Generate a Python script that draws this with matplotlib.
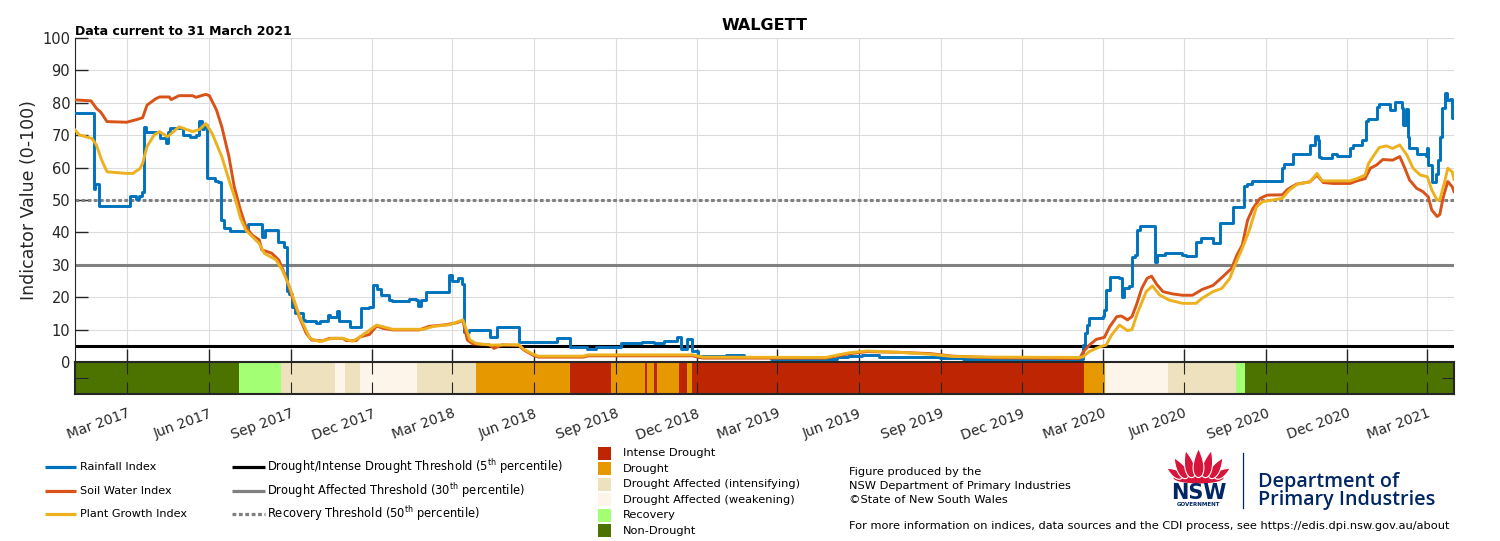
import numpy as np
import pandas as pd
import matplotlib
matplotlib.use('Agg')
import matplotlib.pyplot as plt
import matplotlib.dates as mdates
from matplotlib.patches import Rectangle, Polygon, Ellipse

# ---- data ----
rain = [('2017-01-01', 77.0), ('2017-01-22', 53.5), ('2017-01-24', 55.0), ('2017-01-28', 48.1),
        ('2017-03-04', 51.2), ('2017-03-11', 50.2), ('2017-03-14', 51.2), ('2017-03-17', 52.6),
        ('2017-03-20', 72.4), ('2017-03-22', 71.0), ('2017-04-07', 69.0), ('2017-04-13', 67.5),
        ('2017-04-16', 71.0), ('2017-04-18', 72.2), ('2017-05-02', 70.0), ('2017-05-10', 69.5),
        ('2017-05-17', 70.2), ('2017-05-20', 74.5), ('2017-05-24', 72.0), ('2017-05-26', 73.0),
        ('2017-05-29', 56.7), ('2017-06-07', 56.0), ('2017-06-11', 55.5), ('2017-06-14', 43.8),
        ('2017-06-18', 41.3), ('2017-06-24', 40.3), ('2017-07-14', 42.7), ('2017-07-30', 38.5),
        ('2017-08-03', 40.8), ('2017-08-17', 37.0), ('2017-08-24', 35.5), ('2017-08-27', 22.0),
        ('2017-08-30', 21.0), ('2017-09-02', 17.0), ('2017-09-05', 15.0), ('2017-09-14', 13.0),
        ('2017-09-17', 12.6), ('2017-09-29', 12.0), ('2017-10-03', 12.6), ('2017-10-12', 14.5),
        ('2017-10-15', 13.8), ('2017-10-23', 15.7), ('2017-10-25', 12.8), ('2017-11-06', 10.9),
        ('2017-11-19', 16.6), ('2017-11-28', 17.0), ('2017-12-02', 23.8), ('2017-12-07', 22.5),
        ('2017-12-11', 20.7), ('2017-12-20', 19.1), ('2017-12-23', 18.8), ('2018-01-11', 19.5),
        ('2018-01-19', 19.1), ('2018-01-22', 17.4), ('2018-01-25', 19.1), ('2018-01-30', 21.5),
        ('2018-02-25', 27.0), ('2018-03-01', 25.0), ('2018-03-07', 26.0), ('2018-03-12', 24.0),
        ('2018-03-14', 9.4), ('2018-03-20', 10.0), ('2018-04-12', 7.8), ('2018-04-20', 10.9),
        ('2018-05-15', 6.3), ('2018-06-27', 7.4), ('2018-07-11', 4.7), ('2018-07-31', 4.0),
        ('2018-08-10', 4.7), ('2018-09-07', 5.9), ('2018-09-30', 6.2), ('2018-10-14', 5.8),
        ('2018-10-25', 6.5), ('2018-11-09', 7.8), ('2018-11-13', 4.0), ('2018-11-20', 7.1),
        ('2018-11-25', 3.5), ('2018-12-02', 1.6), ('2018-12-04', 1.8), ('2019-01-03', 2.2),
        ('2019-01-23', 1.5), ('2019-02-22', 1.0), ('2019-05-08', 1.5), ('2019-05-20', 2.0),
        ('2019-06-05', 2.3), ('2019-06-24', 1.6), ('2019-08-31', 1.2), ('2019-09-26', 0.9),
        ('2020-02-08', 5.2), ('2020-02-10', 9.0), ('2020-02-12', 11.4), ('2020-02-15', 13.5),
        ('2020-03-01', 14.2), ('2020-03-03', 16.0), ('2020-03-05', 22.2), ('2020-03-09', 26.2),
        ('2020-03-20', 25.8), ('2020-03-23', 20.2), ('2020-03-25', 22.8), ('2020-03-31', 23.5),
        ('2020-04-03', 32.5), ('2020-04-07', 33.0), ('2020-04-09', 40.7), ('2020-04-12', 42.0),
        ('2020-04-29', 31.0), ('2020-05-01', 33.0), ('2020-05-10', 33.7), ('2020-05-29', 33.0),
        ('2020-06-03', 32.7), ('2020-06-14', 37.1), ('2020-06-20', 38.3), ('2020-07-03', 36.8),
        ('2020-07-11', 42.8), ('2020-07-26', 47.9), ('2020-08-07', 54.3), ('2020-08-10', 55.0),
        ('2020-08-16', 56.0), ('2020-09-19', 59.8), ('2020-09-21', 61.0), ('2020-10-01', 64.2),
        ('2020-10-20', 67.0), ('2020-10-26', 69.8), ('2020-10-29', 68.6), ('2020-10-30', 63.2),
        ('2020-11-02', 62.9), ('2020-11-14', 64.3), ('2020-11-19', 63.5), ('2020-12-04', 66.2),
        ('2020-12-07', 67.0), ('2020-12-18', 68.4), ('2020-12-22', 74.5), ('2020-12-24', 75.1),
        ('2021-01-03', 78.8), ('2021-01-06', 79.5), ('2021-01-18', 77.8), ('2021-01-24', 80.3),
        ('2021-02-01', 78.5), ('2021-02-02', 73.1), ('2021-02-05', 78.0), ('2021-02-07', 69.5),
        ('2021-02-08', 66.2), ('2021-02-17', 64.3), ('2021-02-27', 63.5), ('2021-03-01', 66.0),
        ('2021-03-02', 60.8), ('2021-03-06', 55.7), ('2021-03-11', 58.0), ('2021-03-13', 62.3),
        ('2021-03-15', 69.5), ('2021-03-17', 78.3), ('2021-03-21', 82.9), ('2021-03-23', 81.0),
        ('2021-03-26', 81.2), ('2021-03-29', 75.2), ('2021-03-31', 75.2)]

soil = [('2017-01-01', 80.9), ('2017-01-19', 80.6), ('2017-01-25', 78.3), ('2017-01-30', 77.1),
        ('2017-02-06', 74.2), ('2017-02-28', 74.0), ('2017-03-11', 74.8), ('2017-03-18', 75.4),
        ('2017-03-23', 79.3), ('2017-04-02', 81.3), ('2017-04-06', 81.8), ('2017-04-17', 81.8),
        ('2017-04-19', 81.0), ('2017-04-28', 82.2), ('2017-05-13', 82.2), ('2017-05-17', 81.7),
        ('2017-05-28', 82.6), ('2017-06-01', 82.2), ('2017-06-09', 77.8), ('2017-06-15', 72.6),
        ('2017-06-23', 63.4), ('2017-06-29', 54.1), ('2017-07-06', 46.9), ('2017-07-12', 41.8),
        ('2017-07-19', 39.2), ('2017-07-27', 37.7), ('2017-07-30', 34.6), ('2017-08-10', 33.6),
        ('2017-08-18', 31.5), ('2017-08-26', 26.3), ('2017-09-02', 20.2), ('2017-09-10', 14.0),
        ('2017-09-18', 8.8), ('2017-09-24', 6.8), ('2017-10-06', 6.5), ('2017-10-14', 7.3),
        ('2017-10-29', 7.3), ('2017-11-02', 6.6), ('2017-11-13', 6.6), ('2017-11-17', 7.7),
        ('2017-11-28', 8.5), ('2017-12-06', 11.1), ('2017-12-13', 10.4), ('2017-12-24', 9.9),
        ('2018-01-23', 9.9), ('2018-02-03', 11.0), ('2018-02-22', 11.5), ('2018-03-06', 12.1),
        ('2018-03-13', 12.8), ('2018-03-18', 6.8), ('2018-03-24', 5.6), ('2018-04-12', 5.3),
        ('2018-04-17', 4.2), ('2018-04-26', 5.3), ('2018-05-15', 5.1), ('2018-05-20', 3.8),
        ('2018-05-30', 2.2), ('2018-06-06', 1.5), ('2018-07-26', 1.5), ('2018-08-01', 1.9),
        ('2018-11-26', 1.9), ('2018-12-08', 1.2), ('2019-04-25', 1.2), ('2019-05-20', 2.5),
        ('2019-06-10', 3.2), ('2019-07-15', 3.0), ('2019-08-20', 2.6), ('2019-09-15', 1.8),
        ('2019-11-01', 1.3), ('2020-01-20', 1.1), ('2020-02-04', 1.1), ('2020-02-08', 3.0),
        ('2020-02-15', 5.2), ('2020-02-23', 7.0), ('2020-03-03', 7.6), ('2020-03-09', 10.9),
        ('2020-03-17', 14.0), ('2020-03-22', 14.2), ('2020-03-29', 13.0), ('2020-04-03', 14.0),
        ('2020-04-08', 17.6), ('2020-04-14', 22.7), ('2020-04-20', 25.8), ('2020-04-25', 26.5),
        ('2020-05-01', 23.9), ('2020-05-08', 21.7), ('2020-05-19', 21.0), ('2020-05-30', 20.6),
        ('2020-06-10', 20.6), ('2020-06-21', 22.4), ('2020-07-03', 23.6), ('2020-07-14', 26.3),
        ('2020-07-24', 28.9), ('2020-07-30', 33.0), ('2020-08-05', 36.1), ('2020-08-11', 43.8),
        ('2020-08-17', 47.4), ('2020-08-25', 50.5), ('2020-09-02', 51.5), ('2020-09-19', 51.6),
        ('2020-09-25', 53.3), ('2020-10-05', 54.9), ('2020-10-20', 55.6), ('2020-10-28', 57.7),
        ('2020-11-04', 55.4), ('2020-11-15', 55.1), ('2020-12-04', 55.1), ('2020-12-12', 55.9),
        ('2020-12-21', 56.6), ('2020-12-27', 59.8), ('2021-01-03', 60.8), ('2021-01-10', 62.5),
        ('2021-01-21', 62.3), ('2021-01-29', 63.4), ('2021-02-03', 60.3), ('2021-02-09', 56.2),
        ('2021-02-17', 53.6), ('2021-02-24', 52.6), ('2021-03-02', 51.0), ('2021-03-06', 46.9),
        ('2021-03-12', 44.9), ('2021-03-15', 45.5), ('2021-03-19', 51.0), ('2021-03-24', 55.7),
        ('2021-03-29', 54.1), ('2021-03-31', 52.6)]

plant = [('2017-01-01', 71.6), ('2017-01-06', 70.1), ('2017-01-17', 69.2), ('2017-01-20', 69.0),
         ('2017-01-25', 67.0), ('2017-01-31', 62.3), ('2017-02-06', 58.7), ('2017-02-28', 58.2),
         ('2017-03-07', 58.2), ('2017-03-15', 59.7), ('2017-03-18', 61.3), ('2017-03-23', 66.5),
         ('2017-03-31', 70.1), ('2017-04-06', 71.1), ('2017-04-15', 69.5), ('2017-04-28', 72.6),
         ('2017-05-13', 71.1), ('2017-05-21', 71.8), ('2017-05-28', 73.6), ('2017-06-04', 70.6),
         ('2017-06-15', 63.4), ('2017-06-23', 56.2), ('2017-07-01', 49.5), ('2017-07-06', 44.4),
         ('2017-07-12', 40.7), ('2017-07-27', 36.6), ('2017-08-02', 33.5), ('2017-08-15', 31.5),
         ('2017-08-22', 28.4), ('2017-08-30', 23.3), ('2017-09-10', 14.4), ('2017-09-22', 7.3),
         ('2017-10-03', 6.3), ('2017-10-17', 7.3), ('2017-10-29', 7.3), ('2017-11-09', 6.4),
         ('2017-11-17', 7.7), ('2017-12-06', 11.4), ('2017-12-24', 10.1), ('2018-01-28', 10.1),
         ('2018-02-08', 11.0), ('2018-02-26', 11.5), ('2018-03-13', 13.0), ('2018-03-21', 6.8),
         ('2018-03-28', 5.7), ('2018-04-15', 5.2), ('2018-05-01', 5.3), ('2018-05-15', 5.3),
         ('2018-05-20', 4.0), ('2018-05-30', 2.5), ('2018-06-06', 1.8), ('2018-07-26', 1.8),
         ('2018-08-01', 2.2), ('2018-11-26', 2.2), ('2018-12-08', 1.5), ('2019-04-25', 1.4),
         ('2019-05-20', 2.8), ('2019-06-10', 3.4), ('2019-07-15', 3.0), ('2019-08-20', 2.4),
         ('2019-09-15', 1.7), ('2019-11-01', 1.5), ('2020-02-04', 1.4), ('2020-02-08', 1.6),
         ('2020-02-15', 3.2), ('2020-02-27', 4.7), ('2020-03-05', 5.2), ('2020-03-11', 8.3),
         ('2020-03-20', 11.4), ('2020-03-29', 9.7), ('2020-04-03', 10.0), ('2020-04-09', 15.0),
         ('2020-04-19', 21.7), ('2020-04-26', 23.5), ('2020-05-04', 20.7), ('2020-05-15', 19.1),
         ('2020-05-30', 18.1), ('2020-06-14', 18.1), ('2020-06-21', 19.7), ('2020-07-03', 21.7),
         ('2020-07-13', 22.7), ('2020-07-22', 25.8), ('2020-07-27', 29.4), ('2020-08-05', 35.1),
         ('2020-08-13', 40.7), ('2020-08-21', 47.9), ('2020-08-28', 49.5), ('2020-09-19', 50.5),
         ('2020-09-27', 53.1), ('2020-10-06', 54.9), ('2020-10-20', 55.6), ('2020-10-28', 58.2),
         ('2020-11-03', 55.9), ('2020-12-04', 55.9), ('2020-12-12', 56.6), ('2020-12-21', 57.7),
         ('2020-12-25', 61.3), ('2020-12-30', 63.4), ('2021-01-06', 66.2), ('2021-01-14', 66.7),
         ('2021-01-21', 65.9), ('2021-01-29', 67.0), ('2021-02-06', 63.9), ('2021-02-13', 59.8),
         ('2021-02-21', 57.7), ('2021-03-01', 57.2), ('2021-03-06', 53.1), ('2021-03-12', 50.0),
         ('2021-03-15', 50.0), ('2021-03-21', 56.2), ('2021-03-24', 59.8), ('2021-03-29', 58.7),
         ('2021-03-31', 56.4)]

# drought phase band: start date of each phase
phase_starts = ['2017-01-01', '2017-07-04', '2017-08-21', '2017-10-20', '2017-11-01', '2017-11-17',
                '2018-01-20', '2018-03-28', '2018-07-11', '2018-08-26', '2018-10-04', '2018-10-06',
                '2018-10-14', '2018-10-17', '2018-11-11', '2018-11-20', '2018-11-25', '2020-02-09',
                '2020-03-04', '2020-05-14', '2020-07-29', '2020-08-08']
phase_names = ['Non-Drought', 'Recovery', 'Drought Affected (intensifying)', 'Drought Affected (weakening)',
               'Drought Affected (intensifying)', 'Drought Affected (weakening)',
               'Drought Affected (intensifying)', 'Drought', 'Intense Drought', 'Drought',
               'Intense Drought', 'Drought', 'Intense Drought', 'Drought', 'Intense Drought', 'Drought',
               'Intense Drought', 'Drought', 'Drought Affected (weakening)',
               'Drought Affected (intensifying)', 'Recovery', 'Non-Drought']
data_end = '2021-03-31'

categories = ['Intense Drought', 'Drought', 'Drought Affected (intensifying)',
              'Drought Affected (weakening)', 'Recovery', 'Non-Drought']
cat_colors = ['#be2603', '#e69800', '#eee2be', '#fdf5ea', '#a3ff73', '#4c7300']

thresholds = [5, 30, 50]
threshold_labels = ['Drought/Intense Drought Threshold (5$^{\\rm th}$ percentile)',
                    'Drought Affected Threshold (30$^{\\rm th}$ percentile)',
                    'Recovery Threshold (50$^{\\rm th}$ percentile)']

series_labels = ['Rainfall Index', 'Soil Water Index', 'Plant Growth Index']
series_colors = ['#0072bd', '#d95319', '#edb120']

# ---- figure ----
W, H = 1500, 541
fig = plt.figure(figsize=(W / 100, H / 100), dpi=100)
ax = fig.add_axes([75 / W, 1 - 362 / H, 1379 / W, 324 / H])
band = fig.add_axes([75 / W, 1 - 394 / H, 1379 / W, 32 / H], sharex=ax)

dk = '#262626'
thr_styles = [dict(color='black', ls='-'), dict(color='#808080', ls='-'),
              dict(color='#808080', ls=(0, (1.2, 0.8)))]
for v, st in zip(thresholds, thr_styles):
    ax.axhline(v, lw=2.2, zorder=2, **st)

for data, col, step in zip([rain, soil, plant], series_colors, [True, False, False]):
    d = pd.to_datetime([p[0] for p in data])
    v = [p[1] for p in data]
    ax.plot(d, v, color=col, lw=2.1, zorder=3, drawstyle='steps-post' if step else 'default')

ax.set_ylim(0, 100)
ax.set_yticks(range(0, 101, 10))
ticks = pd.date_range('2017-03-01', '2021-03-01', freq='3MS')
ax.set_xticks(ticks)
ax.set_xlim(pd.Timestamp('2017-01-01'), pd.Timestamp(data_end))
ax.grid(True, color='#dcdcdc', lw=0.8)
ax.set_axisbelow(True)
for s in ['top', 'right', 'bottom']:
    ax.spines[s].set_visible(False)
ax.spines['left'].set_color(dk)
ax.tick_params(axis='both', direction='in', length=9.4, width=1, color=dk,
               labelcolor=dk, labelsize=10.5)
ax.tick_params(axis='x', labelbottom=False)
ax.set_title('WALGETT', fontsize=11.5, fontweight='bold', pad=6)

# phase band
starts = pd.to_datetime(phase_starts)
ends = list(starts[1:]) + [pd.Timestamp(data_end)]
cmap = dict(zip(categories, cat_colors))
for s, e, n in zip(starts, ends, phase_names):
    band.axvspan(s, e, color=cmap[n], lw=0)
band.set_ylim(0, 1)
band.set_yticks([0.5])
band.set_yticklabels([])
band.tick_params(axis='y', left=True, right=True, direction='in', length=9, color=dk)
band.tick_params(axis='x', top=True, bottom=True, direction='in', length=8.6, color=dk,
                 labelcolor=dk, labelsize=10, pad=9)
band.xaxis.set_major_formatter(mdates.DateFormatter('%b %Y'))
plt.setp(band.get_xticklabels(), rotation=20, ha='right', rotation_mode='anchor')
for s in band.spines.values():
    s.set_color(dk)
    s.set_linewidth(1.5)

fig.text(29 / W, 1 - 200 / H, 'Indicator Value (0-100)', rotation=90, ha='center', va='center',
         fontsize=12.5, color=dk)
fig.text(75 / W, 1 - 35 / H, 'Data current to 31 March 2021', fontsize=9, fontweight='bold')

# ---- legends / footer in pixel coordinates ----
ov = fig.add_axes([0, 0, 1, 1])
ov.set_xlim(0, W)
ov.set_ylim(H, 0)
ov.axis('off')

rows = [467, 491, 514]
for y, lab, col in zip(rows, series_labels, series_colors):
    ov.plot([45, 76], [y, y], color=col, lw=2.3, solid_capstyle='butt')
    ov.text(80, y, lab, fontsize=8.1, va='center')
for y, lab, st in zip(rows, threshold_labels, thr_styles):
    ov.plot([232, 265], [y, y], lw=2.3, solid_capstyle='butt', **st)
    ov.text(267, y + 4, lab, fontsize=8.3, va='baseline')

for i, (lab, col) in enumerate(zip(categories, cat_colors)):
    yc = 453.5 + i * 15.4
    ov.add_patch(Rectangle((598, yc - 6.5), 13, 13, color=col, lw=0))
    ov.text(623, yc, lab, fontsize=8.2, va='center')

info = ['Figure produced by the', 'NSW Department of Primary Industries', '\u00a9State of New South Wales']
for i, t in enumerate(info):
    ov.text(849, 472 + i * 14, t, fontsize=8.2, va='center')
ov.text(849, 526, 'For more information on indices, data sources and the CDI process, '
        'see https://edis.dpi.nsw.gov.au/about', fontsize=8.2, va='center')

# NSW government logo (approximate)
red, navy = '#d7153a', '#002664'


def petal(cx, cy, w, h, ang):
    t = np.linspace(0, 2 * np.pi, 60)
    x = w * np.sin(t) * np.sin(t / 2)
    y = -h * np.cos(t)
    a = np.deg2rad(ang)
    return np.column_stack([cx + x * np.cos(a) - y * np.sin(a), cy + x * np.sin(a) + y * np.cos(a)])


fx = 1198.5
ov.add_patch(Ellipse((fx, 478), 50, 11, color=red, lw=0))
for dx, cy, w, h, ang in [(24, 473, 5, 9, 58), (18, 468, 6, 12, 32), (9.5, 464, 6.5, 14, 14)]:
    for sgn in (-1, 1):
        ov.add_patch(Polygon(petal(fx + sgn * dx, cy, w, h, sgn * ang), closed=True,
                             fc=red, ec='white', lw=0.8))
ov.add_patch(Polygon(petal(fx, 463, 7, 14.5, 0), closed=True, fc=red, ec='white', lw=0.8))
ov.text(fx, 493, 'NSW', fontsize=15, fontweight='bold', color=navy, ha='center', va='center')
ov.text(fx, 505, 'GOVERNMENT', fontsize=4, fontweight='bold', color=navy, ha='center', va='center')
ov.plot([1243, 1243], [453, 508], color=navy, lw=0.9)
ov.text(1258, 482, 'Department of', fontsize=14.2, color=navy, va='center',
        family=['Open Sans', 'DejaVu Sans'], fontweight='semibold')
ov.text(1258, 500, 'Primary Industries', fontsize=14.2, color=navy, va='center',
        family=['Open Sans', 'DejaVu Sans'], fontweight='semibold')

fig.savefig('out.png', dpi=100)
